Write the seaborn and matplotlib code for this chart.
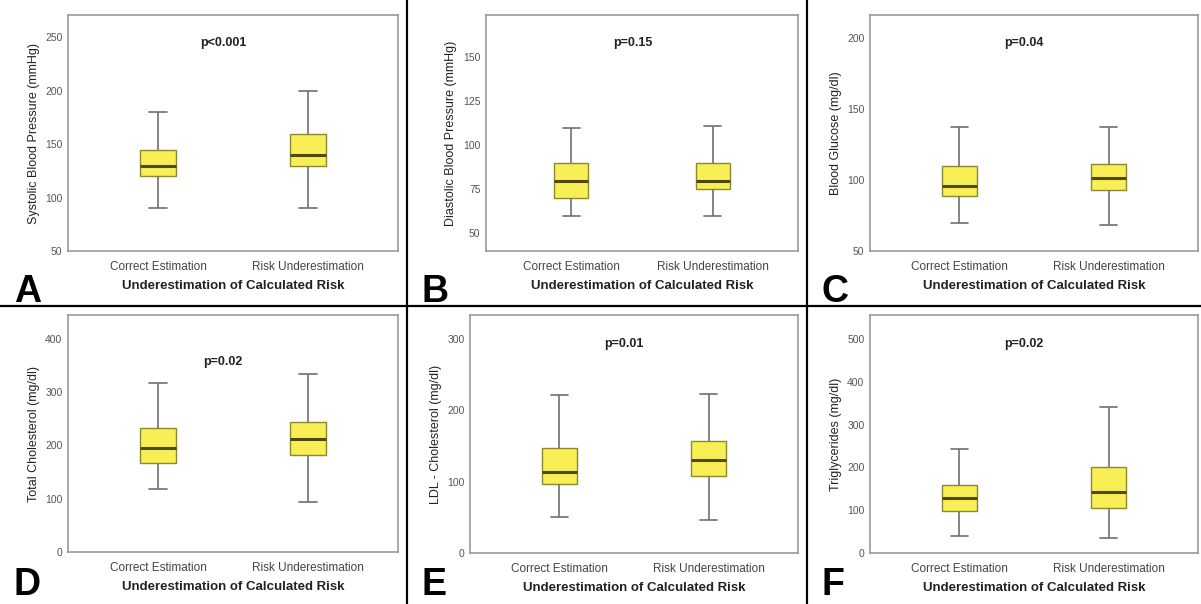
"""Six-panel boxplot figure: risk factors by underestimation of calculated risk."""
import matplotlib
matplotlib.use("Agg")
import matplotlib.pyplot as plt
import pandas as pd
import seaborn as sns

sns.set_style("white")
plt.rcParams["font.family"] = ["Liberation Sans", "DejaVu Sans"]

GROUPS = ["Correct Estimation", "Risk Underestimation"]
XLABEL = "Underestimation of Calculated Risk"

# five-number summaries: [min, Q1, median, Q3, max]
SBP_CORRECT = [90, 120, 130, 145, 180]
SBP_UNDER = [90, 130, 140, 160, 200]
DBP_CORRECT = [60, 70, 80, 90, 110]
DBP_UNDER = [60, 75, 80, 90, 111]
GLU_CORRECT = [70, 89, 96, 110, 137]
GLU_UNDER = [68, 93, 101, 111, 137]
TC_CORRECT = [118, 168, 195, 232, 318]
TC_UNDER = [93, 183, 213, 244, 335]
LDL_CORRECT = [50, 97, 113, 148, 222]
LDL_UNDER = [47, 108, 131, 157, 223]
TG_CORRECT = [40, 98, 128, 158, 243]
TG_UNDER = [35, 106, 143, 200, 340]

YLABELS = ["Systolic Blood Pressure (mmHg)", "Diastolic Blood Pressure (mmHg)",
           "Blood Glucose (mg/dl)", "Total Cholesterol (mg/dl)",
           "LDL - Cholesterol (mg/dl)", "Triglycerides (mg/dl)"]
PVALUES = ["p<0.001", "p=0.15", "p=0.04", "p=0.02", "p=0.01", "p=0.02"]
LETTERS = ["A", "B", "C", "D", "E", "F"]
YLIMS = [(50, 271), (40, 174), (50, 216), (0, 445), (0, 334), (0, 556)]
YTICKS = [[50, 100, 150, 200, 250], [50, 75, 100, 125, 150], [50, 100, 150, 200],
          [0, 100, 200, 300, 400], [0, 100, 200, 300], [0, 100, 200, 300, 400, 500]]
SERIES = [(SBP_CORRECT, SBP_UNDER), (DBP_CORRECT, DBP_UNDER), (GLU_CORRECT, GLU_UNDER),
          (TC_CORRECT, TC_UNDER), (LDL_CORRECT, LDL_UNDER), (TG_CORRECT, TG_UNDER)]

W, H = 1201, 604
# axes boxes in pixels: left, right, top, bottom
BOXES = [(68, 398, 15, 251), (486, 798, 15, 251), (870, 1198, 15, 251),
         (68, 398, 315, 552), (470, 798, 315, 553), (870, 1198, 315, 553)]
PANEL_X0 = [0, 408, 808, 0, 408, 808]
P_Y = [0.88, 0.88, 0.88, 0.80, 0.88, 0.88]

fig = plt.figure(figsize=(W / 100, H / 100), dpi=100)
fig.patch.set_facecolor("white")

for i, (c, u) in enumerate(SERIES):
    l, r, t, b = BOXES[i]
    ax = fig.add_axes([l / W, 1 - b / H, (r - l) / W, (b - t) / H])
    df = pd.DataFrame({"group": [GROUPS[0]] * len(c) + [GROUPS[1]] * len(u),
                       "value": c + u})
    sns.boxplot(data=df, x="group", y="value", order=GROUPS, ax=ax,
                whis=(0, 100), width=0.24, color="#F7EF55",
                boxprops=dict(facecolor="#F7EF55", edgecolor="#8E8830", linewidth=1),
                medianprops=dict(color="#4F4A08", linewidth=2.2),
                whiskerprops=dict(color="#707070", linewidth=1.2),
                capprops=dict(color="#707070", linewidth=1.2),
                showfliers=False)
    ax.set_xlim(-0.6, 1.6)
    ax.set_ylim(*YLIMS[i])
    ax.set_yticks(YTICKS[i])
    ax.set_ylabel(YLABELS[i], fontsize=9, color="#222222", labelpad=4)
    ax.set_xlabel(XLABEL, fontsize=9.5, fontweight="bold", color="#222222", labelpad=5)
    ax.tick_params(axis="both", length=3, color="#888888", direction="out")
    ax.tick_params(axis="y", labelsize=7.5, labelcolor="#555555", pad=1)
    ax.tick_params(axis="x", labelsize=8.5, labelcolor="#444444", pad=4)
    for sp in ax.spines.values():
        sp.set_color("#9A9A9A")
        sp.set_linewidth(1.2)
    ax.text(0.47, P_Y[i], PVALUES[i], transform=ax.transAxes, ha="center", va="center",
            fontsize=9, fontweight="bold", color="#222222")
    if i < 3:
        fig.text((PANEL_X0[i] + 14) / W, 1 - 302 / H, LETTERS[i],
                 fontsize=27, fontweight="bold", ha="left", va="baseline", color="black")
    else:
        fig.text((PANEL_X0[i] + 14) / W, 1 - 603 / H, LETTERS[i],
                 fontsize=27, fontweight="bold", ha="left", va="bottom", color="black")

# panel separators
fig.add_artist(plt.Line2D([0, 1], [1 - 306 / H, 1 - 306 / H], color="black", lw=1.6,
                          transform=fig.transFigure))
for x in (407, 807):
    fig.add_artist(plt.Line2D([x / W, x / W], [0, 1], color="black", lw=1.6,
                              transform=fig.transFigure))

fig.savefig("out.png", dpi=100, facecolor="white")
